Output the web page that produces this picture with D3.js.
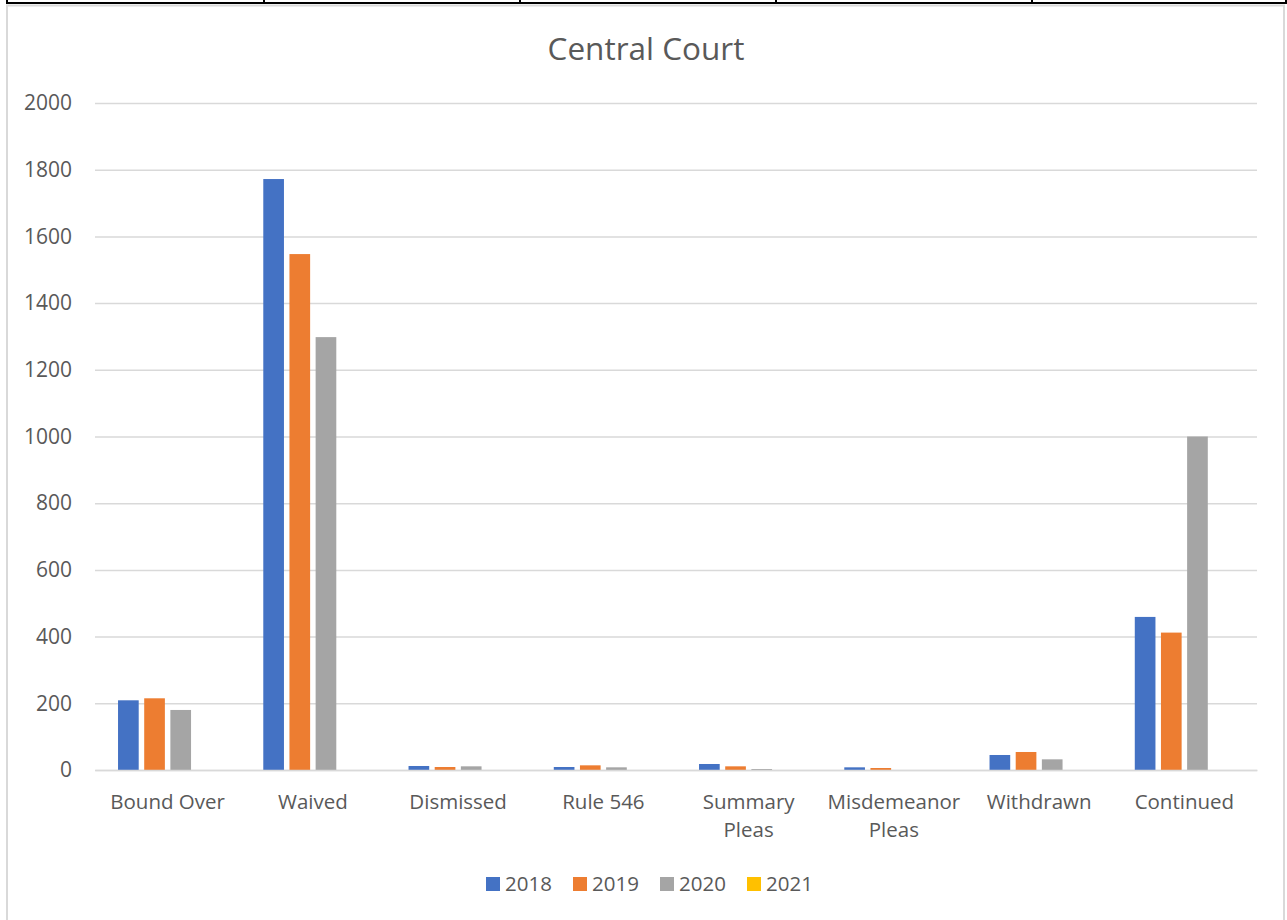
<!DOCTYPE html>
<html>
<head>
<meta charset="utf-8">
<script src="https://cdn.jsdelivr.net/npm/d3@7"></script>
<style>
  html, body { margin: 0; padding: 0; background: #fff; }
  svg { display: block; }
  text { font-family: "Open Sans", "Noto Sans", sans-serif; fill: #595959; }
</style>
</head>
<body>
<svg id="chart" width="1287" height="920"></svg>
<script>
const title = "Central Court";
const categories = ["Bound Over", "Waived", "Dismissed", "Rule 546", "Summary Pleas", "Misdemeanor Pleas", "Withdrawn", "Continued"];
const categoryLines = [["Bound Over"], ["Waived"], ["Dismissed"], ["Rule 546"], ["Summary", "Pleas"], ["Misdemeanor", "Pleas"], ["Withdrawn"], ["Continued"]];
const years = ["2018", "2019", "2020", "2021"];
const colors = ["#4472c4", "#ed7d31", "#a5a5a5", "#ffc000"];
const values2018 = [209, 1772, 12, 9, 18, 8, 45, 459];
const values2019 = [215, 1547, 9, 14, 11, 6, 54, 412];
const values2020 = [180, 1298, 11, 8, 3, 0, 32, 1000];
const values2021 = [0, 0, 0, 0, 0, 0, 0, 0];
const seriesValues = [values2018, values2019, values2020, values2021];
const yTicks = [0, 200, 400, 600, 800, 1000, 1200, 1400, 1600, 1800, 2000];

const svg = d3.select("#chart");

// page decoration: table line at top and chart border
svg.append("line").attr("x1", 7).attr("x2", 1287).attr("y1", 3).attr("y2", 3)
  .attr("stroke", "#000").attr("stroke-width", 2);
[7, 264, 520, 776, 1032, 1286].forEach(x => {
  svg.append("line").attr("x1", x).attr("x2", x).attr("y1", 0).attr("y2", 4)
    .attr("stroke", "#000").attr("stroke-width", 2);
});
svg.append("rect").attr("x", 7).attr("y", 5.5).attr("width", 1277).attr("height", 930)
  .attr("fill", "none").attr("stroke", "#d9d9d9").attr("stroke-width", 2);

const plotLeft = 95, plotRight = 1257, plotTop = 103, plotBottom = 770;
const y = d3.scaleLinear().domain([0, 2000]).range([plotBottom, plotTop]);
const x0 = d3.scaleBand().domain(categories).range([plotLeft, plotRight]).padding(0);
const x1 = d3.scaleBand().domain(years).range([0, x0.bandwidth()]).paddingInner(0.21).paddingOuter(0.88);

// gridlines
const yAxis = d3.axisLeft(y).tickValues(yTicks).tickSize(-(plotRight - plotLeft)).tickFormat(d3.format("d"));
const gy = svg.append("g").attr("transform", `translate(${plotLeft},0)`).call(yAxis);
gy.select(".domain").remove();
gy.selectAll(".tick line").attr("stroke", "#d9d9d9").attr("stroke-width", 1.5);
gy.selectAll(".tick text").attr("x", -23).attr("font-size", 21).attr("fill", "#595959")
  .style("font-family", "'Open Sans', sans-serif");

// bars
const groups = svg.append("g").selectAll("g").data(categories).join("g")
  .attr("transform", d => `translate(${x0(d)},0)`);
groups.selectAll("rect").data((c, i) => years.map((yr, s) => ({ yr, s, v: seriesValues[s][i] })))
  .join("rect")
  .attr("x", d => x1(d.yr))
  .attr("width", x1.bandwidth())
  .attr("y", d => y(d.v))
  .attr("height", d => plotBottom - y(d.v))
  .attr("fill", d => colors[d.s]);

// x axis line
const xAxis = d3.axisBottom(x0).tickSize(0).tickFormat("");
const gx = svg.append("g").attr("transform", `translate(0,${plotBottom})`).call(xAxis);
gx.select(".domain").attr("stroke", "#d9d9d9").attr("stroke-width", 1.5);

// category labels
categories.forEach((c, i) => {
  const t = svg.append("text").attr("x", x0(c) + x0.bandwidth() / 2).attr("y", 809)
    .attr("text-anchor", "middle").attr("font-size", 20.5);
  categoryLines[i].forEach((ln, j) => {
    t.append("tspan").attr("x", x0(c) + x0.bandwidth() / 2).attr("dy", j === 0 ? 0 : 28).text(ln);
  });
});

// title
svg.append("text").attr("x", 646).attr("y", 60).attr("text-anchor", "middle")
  .attr("font-size", 31.5).text(title);

// legend
const legendX = [486, 573, 660, 747];
years.forEach((yr, i) => {
  svg.append("rect").attr("x", legendX[i]).attr("y", 877).attr("width", 14).attr("height", 14)
    .attr("fill", colors[i]);
  svg.append("text").attr("x", legendX[i] + 19).attr("y", 891).attr("font-size", 20.5).text(yr);
});
</script>
</body>
</html>
